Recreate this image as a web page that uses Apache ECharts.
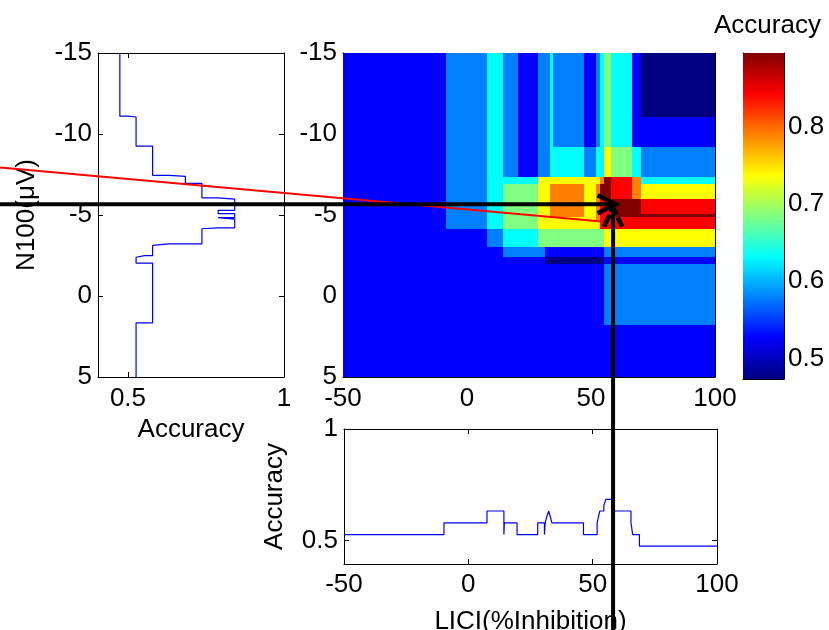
<!DOCTYPE html>
<html><head><meta charset="utf-8">
<script src="https://cdn.jsdelivr.net/npm/echarts@6/dist/echarts.min.js"></script>
<style>html,body{margin:0;padding:0;background:#fff}#c{width:829px;height:630px}</style>
</head><body><div id="c"></div>
<script>
// ---------------- data ----------------
// Heatmap: LICI band edges (x) and N100 band edges (y, top to bottom)
const liciEdges = [-50, -8.5, 8, 14.7, 20.5, 28.6, 31.6, 33.6, 34.7, 47.1, 52.2, 53.5, 55.1, 58.1, 66.6, 70, 100];
const n100Edges = [-15, -11.05, -9.2, -7.34, -6.93, -6.0, -5.08, -4.88, -4.67, -4.16, -3.03, -2.41, -2.0, 1.8, 5];
// accuracy per cell, one row per N100 band (top to bottom), one column per LICI band
const heatRows = [
  [0.526,0.579,0.632,0.579,0.526,0.579,0.579,0.632,0.579,0.526,0.579,0.632,0.684,0.632,0.526,0.474],
  [0.526,0.579,0.632,0.579,0.526,0.579,0.579,0.632,0.579,0.526,0.579,0.632,0.684,0.632,0.526,0.526],
  [0.526,0.579,0.632,0.579,0.526,0.579,0.579,0.632,0.632,0.579,0.632,0.632,0.737,0.684,0.632,0.579],
  [0.526,0.579,0.632,0.632,0.632,0.737,0.737,0.737,0.737,0.737,0.737,0.789,0.895,0.842,0.789,0.632],
  [0.526,0.579,0.632,0.684,0.684,0.737,0.737,0.789,0.789,0.737,0.789,0.895,0.895,0.842,0.789,0.737],
  [0.526,0.579,0.632,0.684,0.684,0.737,0.737,0.789,0.789,0.737,0.789,0.842,0.842,0.895,0.895,0.842],
  [0.526,0.579,0.632,0.684,0.684,0.737,0.737,0.789,0.789,0.737,0.789,0.842,0.842,0.895,0.895,0.895],
  [0.526,0.579,0.632,0.684,0.684,0.737,0.737,0.737,0.737,0.737,0.789,0.842,0.842,0.842,0.842,0.842],
  [0.526,0.579,0.632,0.684,0.684,0.737,0.737,0.737,0.737,0.737,0.737,0.842,0.842,0.842,0.842,0.842],
  [0.526,0.526,0.579,0.632,0.632,0.684,0.684,0.684,0.684,0.684,0.684,0.684,0.737,0.737,0.737,0.737],
  [0.526,0.526,0.526,0.579,0.579,0.579,0.526,0.526,0.526,0.526,0.526,0.526,0.579,0.579,0.579,0.579],
  [0.526,0.526,0.526,0.526,0.526,0.526,0.474,0.474,0.474,0.474,0.474,0.474,0.526,0.526,0.526,0.526],
  [0.526,0.526,0.526,0.526,0.526,0.526,0.526,0.526,0.526,0.526,0.526,0.526,0.579,0.579,0.579,0.579],
  [0.526,0.526,0.526,0.526,0.526,0.526,0.526,0.526,0.526,0.526,0.526,0.526,0.526,0.526,0.526,0.526]
];
// Left panel: accuracy vs N100 threshold (step function)
const leftN100Edges = [-15, -11.1, -11.05, -9.25, -7.45, -7.38, -6.95, -6.06, -5.98, -5.29, -5.08, -4.84, -4.75, -4.21, -4.15, -3.22, -3.12, -2.49, -2.39, -2.03, 1.66, 5];
const leftAcc = [0.474, 0.5, 0.526, 0.579, 0.632, 0.684, 0.737, 0.789, 0.842, 0.789, 0.842, 0.789, 0.842, 0.789, 0.737, 0.632, 0.579, 0.553, 0.526, 0.579, 0.526];
// Bottom panel: accuracy vs LICI threshold (step function)
const bottomLiciEdges = [-50, -9.8, 7.5, 14.3, 14.5, 19.6, 27.9, 30.6, 30.9, 31.5, 32.3, 33.0, 33.6, 46.3, 51.8, 52.3, 52.9, 54.5, 55.3, 57.6, 65.4, 66.1, 68.8, 100];
const bottomAcc = [0.526, 0.579, 0.632, 0.526, 0.579, 0.526, 0.579, 0.526, 0.579, 0.605, 0.632, 0.605, 0.579, 0.526, 0.579, 0.605, 0.632, 0.658, 0.684, 0.632, 0.579, 0.526, 0.474];
// Tick labels
const n100Ticks = [-15, -10, -5, 0, 5];
const liciTicks = [-50, 0, 50, 100];
const accTicksLeft = [0.5, 1];
const accTicksBottom = [0.5, 1];
const colorbarTicks = [0.5, 0.6, 0.7, 0.8];
const accMin = 0.4737, accMax = 0.8947;
// Annotations (heatmap data coordinates)
const hArrow = {licI: 59.9, n100: -5.66};
const vArrow = {licI: 58.9, n100: -5.46};
const redLine = [[-50, -6.03], [80.1, -4.24]];
const jet = ['#000080', '#0000ff', '#0080ff', '#00ffff', '#80ff80', '#ffff00', '#ff8000', '#ff0000', '#800000'];

// ---------------- build ----------------
const heatData = [];
heatRows.forEach((row, r) => row.forEach((v, c) => {
  heatData.push([liciEdges[c], liciEdges[c + 1], n100Edges[r], n100Edges[r + 1], v]);
}));
const leftLine = [];
leftAcc.forEach((a, i) => { leftLine.push([a, leftN100Edges[i]]); leftLine.push([a, leftN100Edges[i + 1]]); });
const bottomLine = [];
bottomAcc.forEach((a, i) => { bottomLine.push([bottomLiciEdges[i], a]); bottomLine.push([bottomLiciEdges[i + 1], a]); });

const FONT = '"Liberation Sans", Arial, Helvetica, sans-serif';
const FS = 26;
const LBL = {color: '#000', fontSize: FS, fontFamily: FONT};
const line = {show: true, onZero: false, lineStyle: {color: '#000', width: 1}};
const tick = (vals) => Object.assign({show: true, inside: true, length: 5, lineStyle: {color: '#000'}}, vals ? {customValues: vals} : {});
const noLbl = {show: false};

function axis(o) {
  return Object.assign({type: 'value', axisLine: line, splitLine: {show: false}}, o);
}
function grid(o) {
  return Object.assign({outerBoundsMode: 'none', containLabel: false}, o);
}

const chart = echarts.init(document.getElementById('c'));
chart.setOption({
  animation: false,
  backgroundColor: '#fff',
  title: {text: 'Accuracy', left: 709, top: 8, textStyle: {color: '#000', fontSize: FS, fontWeight: 'normal', fontFamily: FONT}},
  grid: [
    grid({left: 98, top: 53, width: 186, height: 324}),
    grid({left: 343, top: 53, width: 372, height: 324}),
    grid({left: 344, top: 429, width: 373, height: 135}),
    grid({left: 743, top: 53, width: 41, height: 326})
  ],
  xAxis: [
    axis({gridIndex: 0, min: 0.404, max: 1, position: 'bottom', axisTick: tick(accTicksLeft), axisLabel: Object.assign({margin: 9, customValues: accTicksLeft}, LBL),
      name: 'Accuracy', nameLocation: 'middle', nameGap: 38, nameTextStyle: LBL}),
    axis({gridIndex: 0, min: 0.404, max: 1, position: 'top', axisTick: tick(accTicksLeft), axisLabel: noLbl}),
    axis({gridIndex: 1, min: -50, max: 100, interval: 50, position: 'bottom', axisTick: tick(liciTicks), axisLabel: Object.assign({margin: 9, customValues: liciTicks}, LBL)}),
    axis({gridIndex: 1, min: -50, max: 100, interval: 50, position: 'top', axisTick: tick(liciTicks), axisLabel: noLbl}),
    axis({gridIndex: 2, min: -50, max: 100, interval: 50, position: 'bottom', axisTick: tick(liciTicks), axisLabel: Object.assign({margin: 8, customValues: liciTicks}, LBL),
      name: 'LICI(%Inhibition)', nameLocation: 'middle', nameGap: 45, nameTextStyle: LBL}),
    axis({gridIndex: 2, min: -50, max: 100, interval: 50, position: 'top', axisTick: tick(liciTicks), axisLabel: noLbl}),
    axis({gridIndex: 3, min: 0, max: 1, position: 'bottom', axisTick: {show: false}, axisLabel: noLbl}),
    axis({gridIndex: 3, min: 0, max: 1, position: 'top', axisTick: {show: false}, axisLabel: noLbl})
  ],
  yAxis: [
    axis({gridIndex: 0, inverse: true, min: -15, max: 5, interval: 5, position: 'left', axisTick: tick(n100Ticks), axisLabel: Object.assign({margin: 6, customValues: n100Ticks}, LBL),
      name: 'N100(μV)', nameLocation: 'middle', nameRotate: 90, nameGap: 58, nameTextStyle: LBL}),
    axis({gridIndex: 0, inverse: true, min: -15, max: 5, interval: 5, position: 'right', axisTick: tick(n100Ticks), axisLabel: noLbl}),
    axis({gridIndex: 1, inverse: true, min: -15, max: 5, interval: 5, position: 'left', axisTick: tick(n100Ticks), axisLabel: Object.assign({margin: 6, customValues: n100Ticks}, LBL)}),
    axis({gridIndex: 1, inverse: true, min: -15, max: 5, interval: 5, position: 'right', axisTick: tick(n100Ticks), axisLabel: noLbl}),
    axis({gridIndex: 2, min: 0.394, max: 1, position: 'left', axisTick: tick(accTicksBottom), axisLabel: Object.assign({margin: 6, customValues: accTicksBottom}, LBL),
      name: 'Accuracy', nameLocation: 'middle', nameRotate: 90, nameGap: 56, nameTextStyle: LBL}),
    axis({gridIndex: 2, min: 0.394, max: 1, position: 'right', axisTick: tick(accTicksBottom), axisLabel: noLbl}),
    axis({gridIndex: 3, min: accMin, max: accMax, position: 'right', axisTick: tick(colorbarTicks), axisLabel: Object.assign({margin: 4, customValues: colorbarTicks}, LBL)}),
    axis({gridIndex: 3, min: accMin, max: accMax, position: 'left', axisTick: tick(colorbarTicks), axisLabel: noLbl})
  ],
  visualMap: {show: false, type: 'continuous', seriesIndex: 1, dimension: 4, min: accMin, max: accMax, inRange: {color: jet}},
  series: [
    {type: 'line', xAxisIndex: 0, yAxisIndex: 0, data: leftLine, symbol: 'none', lineStyle: {color: '#0000ff', width: 1.2}, z: 5},
    {type: 'custom', xAxisIndex: 2, yAxisIndex: 2, data: heatData, encode: {x: [0, 1], y: [2, 3]},
      renderItem: function (params, api) {
        const p0 = api.coord([api.value(0), api.value(2)]);
        const p1 = api.coord([api.value(1), api.value(3)]);
        const x0 = Math.round(Math.min(p0[0], p1[0])), x1 = Math.round(Math.max(p0[0], p1[0]));
        const y0 = Math.round(Math.min(p0[1], p1[1])), y1 = Math.round(Math.max(p0[1], p1[1]));
        return {type: 'rect', shape: {x: x0, y: y0, width: x1 - x0, height: y1 - y0},
          style: {fill: api.visual('color')}};
      }, z: 1},
    {type: 'line', xAxisIndex: 4, yAxisIndex: 4, data: bottomLine, symbol: 'none', lineStyle: {color: '#0000ff', width: 1.2}, z: 5},
    {type: 'custom', xAxisIndex: 6, yAxisIndex: 6, data: [[0, 1, accMin, accMax]], encode: {x: [0, 1], y: [2, 3]},
      renderItem: function (params, api) {
        const p0 = api.coord([api.value(0), api.value(3)]);
        const p1 = api.coord([api.value(1), api.value(2)]);
        const stops = jet.map((col, i) => ({offset: i / (jet.length - 1), color: col}));
        return {type: 'rect', shape: {x: p0[0], y: p0[1], width: p1[0] - p0[0], height: p1[1] - p0[1]},
          style: {fill: new echarts.graphic.LinearGradient(0, 1, 0, 0, stops)}};
      }, z: 1}
  ]
});

// annotations: arrows & red line, positioned through the heatmap's coordinate system
const toPx = (p) => chart.convertToPixel({seriesIndex: 1}, p);
const h = toPx([hArrow.licI, hArrow.n100]);
const v = toPx([vArrow.licI, vArrow.n100]);
const r1 = toPx(redLine[0]), r2 = toPx(redLine[1]);
const slope = (r2[1] - r1[1]) / (r2[0] - r1[0]);
const r0y = r1[1] - slope * r1[0];
const black = {stroke: '#000', lineWidth: 4, fill: null};
const H = chart.getHeight();
chart.setOption({
  graphic: [
    {type: 'line', z: 100, shape: {x1: 0, y1: r0y, x2: r2[0], y2: r2[1]}, style: {stroke: '#ff0000', lineWidth: 2}},
    {type: 'line', z: 101, shape: {x1: 0, y1: h[1], x2: h[0] - 3, y2: h[1]}, style: black},
    {type: 'polyline', z: 101, shape: {points: [[h[0] - 18, h[1] - 9], h, [h[0] - 18, h[1] + 9]]}, style: Object.assign({}, black, {lineWidth: 4.5})},
    {type: 'line', z: 101, shape: {x1: v[0], y1: H, x2: v[0], y2: v[1] + 3}, style: black},
    {type: 'polyline', z: 101, shape: {points: [[v[0] - 9, v[1] + 19], v, [v[0] + 9, v[1] + 19]]}, style: Object.assign({}, black, {lineWidth: 4.5, lineDash: [13, 3]})}
  ]
});
</script>
</body></html>
